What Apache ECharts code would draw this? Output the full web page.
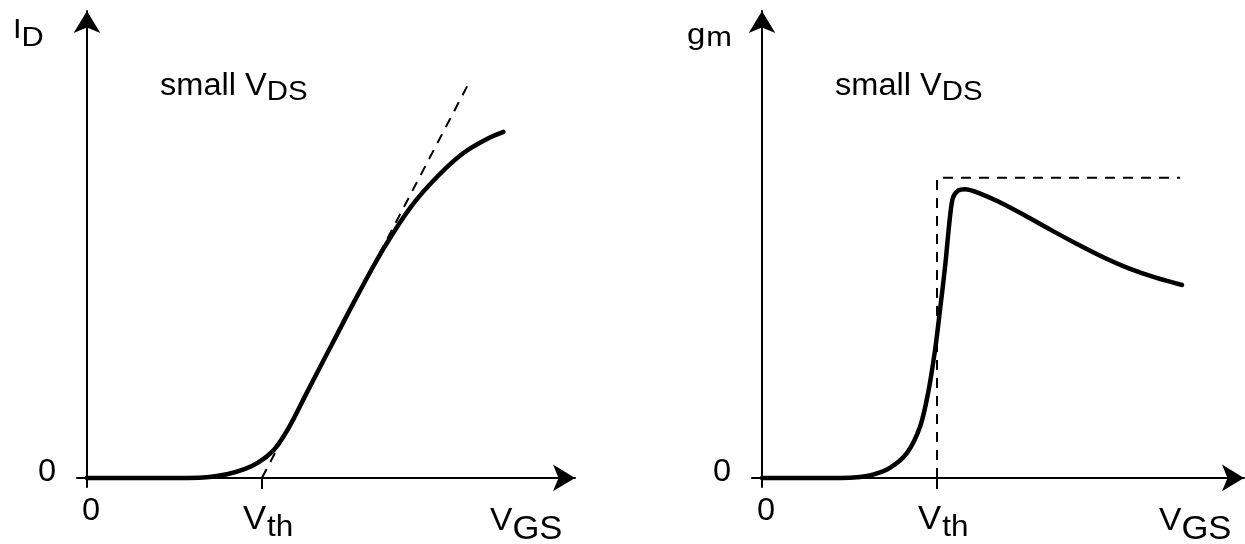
<!DOCTYPE html>
<html><head><meta charset="utf-8">
<script src="https://cdn.jsdelivr.net/npm/echarts@6/dist/echarts.min.js"></script>
<style>html,body{margin:0;padding:0;background:#fff}#main{width:1245px;height:544px}</style>
</head><body><div id="main"></div>
<script>
// ---- data (x in units of Vth, y in % of axis height) ----
const idX = [0, 0.36, 0.58, 0.70, 0.80, 0.90, 0.98, 1.06, 1.12, 1.18, 1.25, 1.40, 1.55, 1.70, 1.85, 2.00, 2.15, 2.30, 2.38];
const idY = [0, 0, 0, 0.2, 0.8, 1.9, 3.4, 5.8, 8.9, 12.9, 18.2, 29.3, 40.3, 50.6, 59.4, 66.0, 71.2, 74.6, 75.9];
const tangentX = [1.0, 2.177];
const tangentY = [0, 86.2];
const gmX = [0, 0.446, 0.56, 0.634, 0.731, 0.829, 0.903, 0.949, 0.989, 1.017, 1.046, 1.074, 1.091, 1.12, 1.16, 1.25, 1.35, 1.50, 1.65, 1.80, 1.95, 2.10, 2.25, 2.40];
const gmY = [0, 0, 0.2, 0.7, 2.2, 5.5, 11.2, 18.6, 28.1, 36.8, 46.3, 57.2, 61.4, 63.0, 63.3, 62.3, 60.6, 57.6, 54.4, 51.3, 48.4, 45.9, 43.9, 42.3];
const idealX = [1.0, 1.0, 2.389];
const idealY = [0, 65.8, 65.8];
const vth = 1;
const xTickMain = ['0', 'V'];
const xTickSub = ['', 'th'];
const yZero = '0';
const yNameMain = ['I', 'g'];
const yNameSub = ['D', 'm'];
const xNameMain = 'V', xNameSub = 'GS';
const noteMain = 'small V', noteSub = 'DS';

const zip = (a, b) => a.map((v, i) => [v, b[i]]);
const FONT = '"Liberation Sans", Arial, Helvetica, sans-serif';
const chart = echarts.init(document.getElementById('main'));
const XMAX = [2.789, 2.754];
const YMAX = 102.4;

function axisX(gi) {
  return { gridIndex: gi, type: 'value', min: -0.0571, max: XMAX[gi],
    axisLine: { onZero: true, symbol: ['none', 'arrow'], symbolSize: [20, 22], lineStyle: { color: '#000', width: 2 } },
    axisTick: { show: true, customValues: [vth], length: 11, inside: false, lineStyle: { color: '#000', width: 2 } },
    axisLabel: { show: false }, splitLine: { show: false } };
}
function axisY(gi) {
  return { gridIndex: gi, type: 'value', min: -2, max: YMAX,
    axisLine: { onZero: true, symbol: ['none', 'arrow'], symbolSize: [20, 22], lineStyle: { color: '#000', width: 2 } },
    axisTick: { show: false }, axisLabel: { show: false }, splitLine: { show: false } };
}
const dash = { color: '#000', width: 2, type: [10, 8] };
const solid = { color: '#000', width: 4.5, cap: 'round', join: 'round' };
const option = {
  animation: false,
  grid: [
    { left: 77, top: 11, width: 498, height: 476 },
    { left: 752, top: 11, width: 492, height: 476 }
  ],
  xAxis: [axisX(0), axisX(1)],
  yAxis: [axisY(0), axisY(1)],
  series: [
    { type: 'line', xAxisIndex: 0, yAxisIndex: 0, data: zip(tangentX, tangentY), symbol: 'none', lineStyle: dash, z: 3 },
    { type: 'line', xAxisIndex: 0, yAxisIndex: 0, data: zip(idX, idY), smooth: 0.35, symbol: 'none', lineStyle: solid, z: 4 },
    { type: 'line', xAxisIndex: 1, yAxisIndex: 1, data: zip(idealX, idealY), symbol: 'none', lineStyle: dash, z: 3 },
    { type: 'line', xAxisIndex: 1, yAxisIndex: 1, data: zip(gmX, gmY), smooth: 0.3, symbol: 'none', lineStyle: solid, z: 4 }
  ]
};
chart.setOption(option);

const ctx = document.createElement('canvas').getContext('2d');
function tw(s, size) { ctx.font = size + 'px ' + FONT; return ctx.measureText(s).width; }
function txt(s, x, base, size, align, sx) {
  return { type: 'text', x: x, y: base - 0.3465 * size, scaleX: sx, z: 10,
    style: { text: s, fontSize: size, fontFamily: FONT, fill: '#000', align: align || 'left', verticalAlign: 'middle' } };
}
function subTxt(m, s, x, base, size, subSize, drop, sx, gap) {
  return [txt(m, x, base, size, 'left', sx), txt(s, x + tw(m, size) * sx + (gap || 0), base + drop, subSize, 'left', sx)];
}
let g = [];
[0, 1].forEach(gi => {
  const o = chart.convertToPixel({ gridIndex: gi }, [0, 0]);
  const v = chart.convertToPixel({ gridIndex: gi }, [vth, 0]);
  const end = chart.convertToPixel({ gridIndex: gi }, [XMAX[gi], YMAX]);
  g.push(txt(yZero, o[0] - 40, o[1] + 5, 31, 'center', 1.05));
  g.push(txt(xTickMain[0], o[0] + 4, o[1] + 44, 31, 'center', 1.05));
  g = g.concat(subTxt(xTickMain[1], xTickSub[1], v[0] - 19, o[1] + 53, 33, 30, 7, 1.05, 1));
  g = g.concat(subTxt(xNameMain, xNameSub, end[0] - 85, o[1] + 54, 32, 33, 9, 1.05, 0));
  if (gi === 0) g = g.concat(subTxt(yNameMain[0], yNameSub[0], o[0] - 74, 40, 28, 28, 8, 1.1, 0));
  else g = g.concat(subTxt(yNameMain[1], yNameSub[1], o[0] - 75, 46, 30, 28, 2, 1.1, 1));
  g = g.concat(subTxt(noteMain, noteSub, o[0] + 73, 97, 31, 28, 5, 1.05, 0));
});
chart.setOption({ graphic: g });
</script></body></html>
